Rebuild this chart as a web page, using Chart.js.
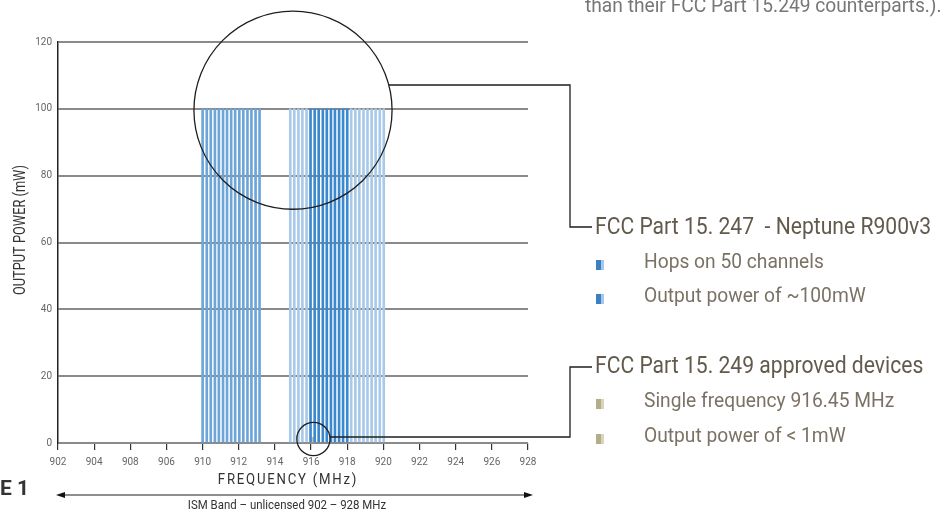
<!DOCTYPE html>
<html>
<head>
<meta charset="utf-8">
<script src="https://cdn.jsdelivr.net/npm/chart.js@4.4.1/dist/chart.umd.min.js"></script>
<style>
  html, body { margin: 0; padding: 0; background: #fff; }
  #wrap { width: 945px; height: 512px; position: relative; }
</style>
</head>
<body>
<div id="wrap"><canvas id="chart" width="945" height="512"></canvas></div>
<script>
// frequency-hopping channels (MHz)
const hopChannels = [
  910.0, 910.23, 910.45, 910.68, 910.9, 911.13, 911.35, 911.58, 911.8, 912.03,
  912.25, 912.48, 912.7, 912.93, 913.15,
  914.85, 915.07, 915.3, 915.52, 915.75, 915.97, 916.2, 916.42, 916.65, 916.87,
  917.1, 917.32, 917.55, 917.77, 918.0, 918.22, 918.45, 918.67, 918.9, 919.12,
  919.35, 919.57, 919.8, 920.02
];
const hopPower = [
  100, 100, 100, 100, 100, 100, 100, 100, 100, 100,
  100, 100, 100, 100, 100,
  100, 100, 100, 100, 100, 100, 100, 100, 100, 100,
  100, 100, 100, 100, 100, 100, 100, 100, 100, 100,
  100, 100, 100, 100
];
// single fixed-frequency device
const fixedChannel = [916.05];
const fixedPower = [1.7];

// tick labels as printed (906/908 are swapped in the original)
const xTickLabels = ['902', '904', '908', '906', '910', '912', '914', '916', '918', '920', '922', '924', '926', '928'];
const yTickLabels = ['0', '20', '40', '60', '80', '100', '120'];

// circled regions: centre (MHz, mW) and radius in MHz
const bigRing = { freq: 915.0, power: 99.6, r: 5.48 };
const smallRing = { freq: 916.13, power: 1.2, r: 0.92 };

const hopColor = (c) => {
  const f = c.raw ? c.raw.x : 0;
  if (f < 914) return '#6ea5d9';
  if (f > 915.9 && f < 918.1) return '#3c88cf';
  return '#a9c9e8';
};

function txt(ctx, s, x, y, size, color, opts) {
  opts = opts || {};
  ctx.save();
  ctx.font = (opts.weight || '400') + ' ' + size + 'px Roboto, "Liberation Sans", sans-serif';
  ctx.fillStyle = color;
  ctx.textBaseline = opts.baseline || 'middle';
  ctx.textAlign = opts.align || 'left';
  if (opts.spacing) ctx.letterSpacing = opts.spacing;
  ctx.translate(x, y);
  if (opts.rotate) ctx.rotate(opts.rotate);
  ctx.scale(opts.sx || 1, 1);
  ctx.fillText(s, 0, 0);
  ctx.restore();
}

function bullet(ctx, x, y, dark, light) {
  ctx.fillStyle = dark;
  ctx.fillRect(x, y - 5, 5, 10);
  ctx.fillStyle = light;
  ctx.fillRect(x + 5, y - 5, 3, 10);
}

const extras = {
  id: 'extras',
  afterDraw(chart) {
    const ctx = chart.ctx;
    const xs = chart.scales.x;
    const ys = chart.scales.y;

    // rings
    const ring = (r) => {
      const cx = xs.getPixelForValue(r.freq);
      const cy = ys.getPixelForValue(r.power);
      const rad = xs.getPixelForValue(r.freq + r.r) - cx;
      ctx.beginPath();
      ctx.arc(cx, cy, rad, 0, Math.PI * 2);
      ctx.stroke();
      return { cx, cy, rad };
    };
    ctx.save();
    ctx.strokeStyle = '#1e1e1e';
    ctx.lineWidth = 1.3;
    const b = ring(bigRing);
    const s = ring(smallRing);

    // callout leaders
    const y1 = 85;
    const bx = b.cx + Math.sqrt(b.rad * b.rad - (y1 - b.cy) * (y1 - b.cy));
    ctx.beginPath();
    ctx.moveTo(bx, y1);
    ctx.lineTo(570, y1);
    ctx.lineTo(570, 227);
    ctx.lineTo(592, 227);
    ctx.stroke();

    const y2 = 437;
    const sx = s.cx + Math.sqrt(Math.max(s.rad * s.rad - (y2 - s.cy) * (y2 - s.cy), 0));
    ctx.beginPath();
    ctx.moveTo(sx, y2);
    ctx.lineTo(570, y2);
    ctx.lineTo(570, 367);
    ctx.lineTo(592, 367);
    ctx.stroke();

    // ISM band arrow
    ctx.fillStyle = '#111';
    ctx.lineWidth = 1.2;
    ctx.beginPath();
    ctx.moveTo(62, 495);
    ctx.lineTo(527, 495);
    ctx.stroke();
    ctx.beginPath();
    ctx.moveTo(56, 495); ctx.lineTo(65, 492); ctx.lineTo(65, 498); ctx.closePath(); ctx.fill();
    ctx.beginPath();
    ctx.moveTo(533, 495); ctx.lineTo(524, 492); ctx.lineTo(524, 498); ctx.closePath(); ctx.fill();
    ctx.restore();

    // axis titles and captions
    txt(ctx, 'OUTPUT POWER (mW)', 21, 230, 16, '#333', { align: 'center', rotate: -Math.PI / 2, sx: 0.8 });
    txt(ctx, 'FREQUENCY (MHz)', 288, 480, 15, '#333', { align: 'center', spacing: '2px', sx: 0.88 });
    txt(ctx, 'ISM Band \u2013 unlicensed 902 \u2013 928 MHz', 287, 506, 13, '#333', { align: 'center', sx: 0.88 });
    txt(ctx, 'E 1', 0, 490, 21, '#333', { weight: '700' });
    txt(ctx, 'than their FCC Part 15.249 counterparts.).', 585, 12, 20, '#777', { baseline: 'alphabetic', sx: 0.96 });

    // callout text
    const head = '#625b4d';
    const body = '#7a7264';
    txt(ctx, 'FCC Part 15. 247  - Neptune R900v3', 595, 228, 24, head, { sx: 0.88 });
    bullet(ctx, 596, 265, '#3b80c3', '#a8c6e6');
    txt(ctx, 'Hops on 50 channels', 644, 263, 20, body, { sx: 0.96 });
    bullet(ctx, 596, 299, '#3b80c3', '#a8c6e6');
    txt(ctx, 'Output power of ~100mW', 644, 297, 20, body, { sx: 0.96 });

    txt(ctx, 'FCC Part 15. 249 approved devices', 595, 367, 24, head, { sx: 0.88 });
    bullet(ctx, 596, 404, '#b4ae88', '#d8d4bd');
    txt(ctx, 'Single frequency 916.45 MHz', 644, 402, 20, body, { sx: 0.96 });
    bullet(ctx, 596, 439, '#b4ae88', '#d8d4bd');
    txt(ctx, 'Output power of < 1mW', 644, 437, 20, body, { sx: 0.96 });
  }
};

const tickFont = { family: '"Liberation Sans Narrow", Roboto, sans-serif', size: 10 };

new Chart(document.getElementById('chart').getContext('2d'), {
  type: 'bar',
  data: {
    datasets: [
      {
        label: 'Neptune R900v3',
        data: hopChannels.map((f, i) => ({ x: f, y: hopPower[i] })),
        backgroundColor: hopColor,
        barThickness: 2,
        borderWidth: 0
      },
      {
        label: 'Part 15.249',
        data: fixedChannel.map((f, i) => ({ x: f, y: fixedPower[i] })),
        backgroundColor: '#c8c39c',
        barThickness: 3,
        borderWidth: 0
      }
    ]
  },
  options: {
    responsive: false,
    animation: false,
    datasets: { bar: { grouped: false } },
    layout: { padding: { left: 0, right: 417, top: 42, bottom: 0 } },
    plugins: { legend: { display: false }, tooltip: { enabled: false } },
    scales: {
      x: {
        type: 'linear',
        min: 902,
        max: 928,
        offset: false,
        afterFit: (s) => { s.height = 69; },
        afterBuildTicks: (s) => {
          s.ticks = xTickLabels.map((_, i) => ({ value: 902 + i * 2 }));
        },
        ticks: {
          callback: (v, i) => xTickLabels[i],
          font: tickFont,
          color: '#666',
          padding: 6,
          maxRotation: 0,
          autoSkip: false
        },
        grid: { offset: false, drawOnChartArea: false, drawTicks: true, tickLength: 7, color: '#333', lineWidth: 1.2 },
        border: { display: false }
      },
      y: {
        min: 0,
        max: 120,
        z: 1,
        afterFit: (s) => { s.width = 58; },
        ticks: {
          stepSize: 20,
          callback: (v, i) => yTickLabels[i],
          font: tickFont,
          color: '#666',
          padding: 6
        },
        grid: { color: '#8a8a8a', lineWidth: 2, drawTicks: false },
        border: { display: true, color: '#222', width: 1.5 }
      }
    }
  },
  plugins: [extras]
});
</script>
</body>
</html>
